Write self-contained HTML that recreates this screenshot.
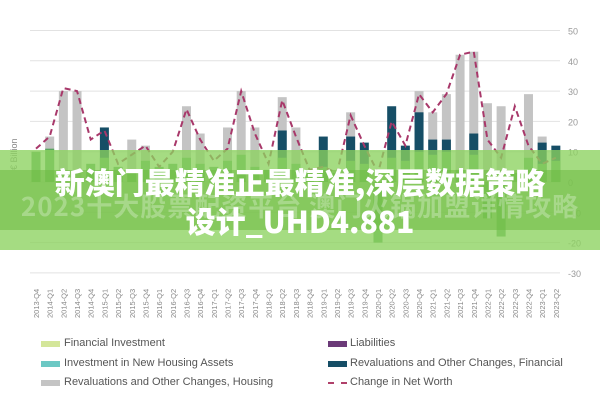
<!DOCTYPE html>
<html><head><meta charset="utf-8"><style>
html,body{margin:0;padding:0;background:#fff;}
#w{position:relative;width:600px;height:400px;overflow:hidden;font-family:"Liberation Sans",sans-serif;}
.lg{position:absolute;font-size:11px;color:#555;}
.sw{position:absolute;width:19px;height:6px;}
</style></head><body><div id="w">
<svg id="s" width="600" height="400" style="position:absolute;left:0;top:0"></svg>
<div class="sw" style="left:41px;top:341px;background:#d4e69a"></div><div class="lg" style="left:64px;top:337px">Financial Investment</div>
<div class="sw" style="left:41px;top:361px;background:#6cc8c4"></div><div class="lg" style="left:64px;top:357px">Investment in New Housing Assets</div>
<div class="sw" style="left:41px;top:380px;background:#c4c4c4"></div><div class="lg" style="left:64px;top:376px">Revaluations and Other Changes, Housing</div>
<div class="sw" style="left:328px;top:341px;background:#6b3a78"></div><div class="lg" style="left:350px;top:337px">Liabilities</div>
<div class="sw" style="left:328px;top:361px;background:#164e66"></div><div class="lg" style="left:350px;top:357px">Revaluations and Other Changes, Financial</div>
<div class="sw" style="left:328px;top:382px;height:0;border-top:2px dashed #b0406a;background:none"></div><div class="lg" style="left:350px;top:376px">Change in Net Worth</div>
<div style="position:absolute;left:0;top:150px;width:600px;height:100px;background:rgba(140,210,95,0.78)"></div>
<div style="position:absolute;left:0;top:170px;width:600px;height:60px;background:rgba(110,185,65,0.55)"></div>
<div style="position:absolute;left:0;top:187px;width:600px;text-align:center;font:bold 26px 'Noto Sans CJK SC',sans-serif;color:rgba(255,255,255,0.28);letter-spacing:1px">2023十大股票配资平台 澳门火锅加盟详情攻略</div>
<div style="position:absolute;left:0;top:162px;width:600px;text-align:center;font:900 30px 'Noto Sans CJK SC',sans-serif;color:#fff;line-height:39px">新澳门最精准正最精准,深层数据策略<br>设计_UHD4.881</div>
</div>
<script>
var s=document.getElementById('s'),h='';
function y(v){return 182-v*3.03;}
for(var v=50;v>=-30;v-=10){h+='<line x1="30" x2="560" y1="'+y(v)+'" y2="'+y(v)+'" stroke="#e2e2e2"/>';
h+='<text x="568" y="'+(y(v)+4)+'" font-size="9" fill="#999" font-family="Liberation Sans">'+v+'</text>';}
var g=[0,15,30,30,0,0,0,14,12,0,0,25,16,0,18,30,18,0,28,18,0,0,0,23,0,0,0,0,30,23,29,42,43,26,25,0,29,15,0];
var d=[0,0,0,0,0,18,0,0,0,0,0,0,0,0,0,0,0,0,17,0,0,15,0,15,13,0,25,12,23,14,14,0,16,0,0,0,0,13,12];
var gr=[10,11,0,0,6,8,5,4,7,5,6,8,6,5,7,9,5,4,8,6,4,5,3,7,6,-20,8,7,10,9,10,4,9,-12,-18,3,8,6,7];
var l=[11,15,31,30,14,17,6,9,12,5,10,24,14,7,11,30,16,6,27,15,4,5,3,22,12,3,20,12,29,23,29,42,43,14,8,25,12,6,8];
var pts=[];
for(var i=0;i<39;i++){var x=36+i*13.68;
if(g[i])h+='<rect x="'+(x-4.5)+'" y="'+y(g[i])+'" width="9" height="'+(y(0)-y(g[i]))+'" fill="#c4c4c4"/>';
if(d[i])h+='<rect x="'+(x-4.5)+'" y="'+y(d[i])+'" width="9" height="'+(y(0)-y(d[i]))+'" fill="#164e66"/>';
var a=gr[i];h+='<rect x="'+(x-4.5)+'" y="'+Math.min(y(a),y(0))+'" width="9" height="'+Math.abs(y(a)-y(0))+'" fill="#5aa860"/>';
pts.push(x+','+y(l[i]));
var q=['Q4','Q1','Q2','Q3'][i%4],yr=2013+Math.floor((i+3)/4);
h+='<text transform="translate('+(x+3)+',318) rotate(-90)" font-size="7.5" fill="#888" font-family="Liberation Sans">'+yr+'-'+q+'</text>';}
h+='<polyline points="'+pts.join(' ')+'" fill="none" stroke="#a8386a" stroke-width="2" stroke-dasharray="6,4"/>';
h+='<text transform="translate(17,170) rotate(-90)" font-size="9" fill="#888" font-family="Liberation Sans">€ Billion</text>';
s.innerHTML=h;
</script>
</body></html>
